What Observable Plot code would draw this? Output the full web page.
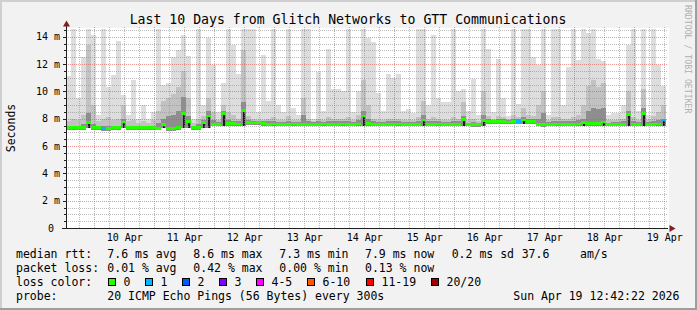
<!DOCTYPE html>
<html><head><meta charset="utf-8">
<script src="https://cdn.jsdelivr.net/npm/d3@7"></script>
<script src="https://cdn.jsdelivr.net/npm/@observablehq/plot@0.6"></script>
<style>
html,body{margin:0;padding:0;background:#f2f2f2;}
#chart{width:697px;height:310px;}
svg{display:block;}
</style></head><body><div id="chart"></div>
<script>
const title = "Last 10 Days from Glitch Networks to GTT Communications";
const yLabel = "Seconds";
const watermark = "RRDTOOL / TOBI OETIKER";
const startTime = Date.UTC(2026, 3, 9, 12, 42, 22);
const endTime = Date.UTC(2026, 3, 19, 12, 42, 22);
const stepHours = 2;
const dayLabels = ["10 Apr","11 Apr","12 Apr","13 Apr","14 Apr","15 Apr","16 Apr","17 Apr","18 Apr","19 Apr"];
const yTicks = [0, 2, 4, 6, 8, 10, 12, 14];
const yMax = 14.64;

// median rtt per 2h column (ms)
const medianMs = [
 7.35,7.35,7.36,7.35,7.7,7.34,7.35,7.28,7.28,7.35,
 7.35,7.75,7.35,7.36,7.35,7.35,7.34,7.35,7.3,7.6,
 7.26,7.27,7.38,8.4,7.8,7.35,7.36,7.7,8.2,7.58,
 7.6,8.4,7.65,7.66,7.62,8.6,7.7,7.68,7.7,7.65,
 7.6,7.62,7.58,7.6,7.6,7.62,7.6,7.6,7.58,7.6,
 7.6,7.62,7.6,7.58,7.6,7.62,7.6,7.6,7.62,8.2,
 7.65,7.6,7.58,7.6,7.6,7.6,7.62,7.6,7.58,7.6,
 7.6,7.9,7.6,7.6,7.62,7.6,7.6,7.58,7.6,7.95,
 7.6,7.55,7.55,7.85,7.78,7.78,7.8,7.78,7.76,7.78,
 7.78,7.9,7.78,7.78,7.6,7.55,7.6,7.6,7.62,7.6,
 7.6,7.6,7.62,7.7,7.65,7.65,7.64,7.75,7.6,7.58,
 7.6,7.6,8.3,7.6,7.6,8.4,7.6,7.6,7.62,7.9
];
// slowest ping per column (ms)
const maxMs = [
 11.1,14.6,9.5,12.5,14.6,14.1,8.3,14.6,10.3,11.2,
 13.7,9.7,8.3,10.8,8.0,9.0,8.0,8.5,14.6,10.5,
 10.6,12.5,13.0,14.1,12.6,8.0,14.6,9.0,13.9,11.9,
 8.5,10.6,14.6,13.4,11.3,14.6,14.6,14.6,8.5,12.7,
 9.3,14.6,9.0,8.5,14.6,8.8,8.3,14.6,14.6,8.0,
 11.4,8.6,13.1,10.2,10.2,10.0,14.6,8.5,10.0,14.6,
 13.9,13.6,9.9,8.6,11.3,11.0,11.3,8.6,8.7,8.4,
 14.6,14.6,9.0,14.1,9.5,9.2,9.2,14.6,10.0,10.2,
 8.6,10.9,8.3,14.6,13.1,8.5,12.4,9.5,8.2,14.6,
 9.1,14.6,14.6,12.5,11.9,14.6,8.3,14.6,14.6,9.0,
 11.8,14.6,12.3,14.6,14.3,14.6,12.4,12.2,8.3,8.4,
 8.4,9.0,13.4,14.6,8.6,14.6,8.3,14.6,11.9,10.4
];
// upper smoke (about 2nd slowest pings, ms)
const upperMs = [
 7.8,8.0,7.9,8.3,13.4,9.0,7.8,8.0,8.1,7.9,
 8.0,9.0,7.8,7.9,7.7,7.8,7.7,7.9,8.6,9.3,
 9.5,9.8,10.3,11.5,9.5,7.7,8.0,8.2,9.5,8.5,
 7.9,9.0,8.5,8.3,8.0,13.0,8.2,8.0,7.9,7.9,
 7.95,8.1,7.9,7.9,8.2,7.9,7.9,9.5,8.0,7.85,
 8.0,7.9,8.1,8.0,8.0,8.0,8.1,7.9,8.3,10.8,
 9.0,8.0,7.9,7.9,8.0,8.0,8.0,7.9,7.9,7.9,
 8.1,9.3,8.0,8.1,7.95,7.9,7.9,8.1,8.0,9.2,
 7.9,8.0,7.85,10.0,8.2,8.0,8.2,8.1,8.0,8.3,
 8.1,8.8,8.3,8.2,9.0,10.0,7.9,8.1,8.1,8.0,
 8.0,8.1,8.3,9.0,10.4,10.8,10.3,10.6,7.9,7.9,
 7.9,8.0,10.0,8.1,7.9,10.2,7.9,8.2,8.5,9.0
];
// inner smoke (pings close to the median, ms)
const innerMs = [
 7.5,7.5,7.5,7.6,8.4,7.6,7.5,7.5,7.5,7.5,
 7.5,8.0,7.5,7.5,7.5,7.5,7.5,7.5,7.7,8.0,
 8.2,8.3,8.6,9.6,8.2,7.5,7.6,7.9,8.6,7.9,
 7.75,8.6,7.9,7.85,7.8,9.2,7.9,7.85,7.8,7.8,
 7.8,7.8,7.75,7.75,7.8,7.75,7.75,8.3,7.8,7.75,
 7.8,7.75,7.8,7.8,7.8,7.8,7.8,7.75,7.9,8.6,
 8.0,7.8,7.75,7.75,7.8,7.8,7.8,7.75,7.75,7.75,
 7.8,8.3,7.8,7.8,7.8,7.75,7.75,7.8,7.8,8.2,
 7.7,7.75,7.7,8.3,7.95,7.9,7.95,7.95,7.9,7.95,
 7.95,8.1,7.95,7.95,8.0,8.4,7.75,7.8,7.8,7.8,
 7.8,7.8,7.9,8.0,8.6,8.8,8.7,8.8,7.7,7.75,
 7.75,7.8,8.6,7.8,7.75,8.8,7.75,7.8,7.9,8.0
];
// fastest ping per column (ms)
const minMs = [
 7.2,7.2,7.2,7.2,7.35,7.2,7.2,7.13,7.13,7.2,
 7.2,7.35,7.2,7.2,7.2,7.2,7.2,7.2,7.15,7.3,
 7.13,7.13,7.2,7.35,7.35,7.2,7.2,7.35,7.35,7.45,
 7.45,7.5,7.5,7.5,7.45,7.5,7.55,7.55,7.55,7.5,
 7.45,7.45,7.45,7.45,7.45,7.45,7.45,7.45,7.45,7.45,
 7.45,7.45,7.45,7.45,7.45,7.45,7.45,7.45,7.45,7.5,
 7.5,7.45,7.45,7.45,7.45,7.45,7.45,7.45,7.45,7.45,
 7.45,7.5,7.45,7.45,7.45,7.45,7.45,7.45,7.45,7.5,
 7.45,7.4,7.4,7.5,7.63,7.63,7.63,7.63,7.63,7.63,
 7.63,7.63,7.63,7.63,7.45,7.4,7.45,7.45,7.45,7.45,
 7.45,7.45,7.45,7.5,7.5,7.5,7.5,7.5,7.45,7.45,
 7.45,7.45,7.5,7.45,7.45,7.5,7.45,7.45,7.45,7.5
];
// lost pings (of 20) per column
const lossCount = [
 0,0,0,0,0,0,0,1,0,0, 0,0,0,0,0,0,0,0,0,0,
 0,0,0,0,0,0,0,0,0,0, 0,0,0,0,0,0,0,0,0,0,
 0,0,0,0,0,0,0,0,0,0, 0,0,0,0,0,0,0,0,0,0,
 0,0,0,0,0,0,0,0,0,0, 0,0,0,0,0,0,0,0,0,0,
 0,0,0,0,0,0,0,0,0,0, 1,0,0,0,0,0,0,0,0,0,
 0,0,0,0,0,0,0,0,0,0, 0,0,0,0,0,0,0,0,0,1
];
const lossLabels = ["0","1","2","3","4-5","6-10","11-19","20/20"];
const lossMaxCount = [0,1,2,3,5,10,19,20];
const lossColors = ["#26ff00","#00b8ff","#0059ff","#7e00ff","#ff00ff","#ff5500","#ff0000","#a10000"];

const statRow1 = ["median rtt:","7.6 ms avg","8.6 ms max","7.3 ms min","7.9 ms now","0.2 ms sd","37.6","am/s"];
const statRow2 = ["packet loss:","0.01 % avg","0.42 % max","0.00 % min","0.13 % now"];
const probeRow = ["probe:","20 ICMP Echo Pings (56 Bytes) every 300s","Sun Apr 19 12:42:22 2026"];
const lossRowLabel = "loss color:";

const font = "'DejaVu Sans Mono', monospace";
const stepMs = stepHours * 3600 * 1000;
const lossColor = n => lossColors[lossMaxCount.findIndex(m => n <= m)];

const cols = medianMs.map((m, i) => ({
  t1: new Date(startTime + i * stepMs),
  t2: new Date(startTime + (i + 1) * stepMs),
  med: m, hi: maxMs[i], up: upperMs[i], inner: innerMs[i], lo: minMs[i], loss: lossCount[i]
}));

const start = new Date(startTime), end = new Date(endTime);
const dayLines = d3.utcDay.range(start, end);
const sixHourLines = d3.utcHour.every(6).range(start, end).filter(d => d.getUTCHours() !== 0);
const labelDates = dayLines.map(d => d3.utcHour.offset(d, 12));
const minorY = d3.range(0.5, yMax, 0.5).filter(v => v % 2 !== 0);
const majorY = yTicks.filter(v => v > 0);
const crisp = {shapeRendering: "crispEdges"};

const W = 697, H = 310;
const plot = Plot.plot({
  width: W, height: H,
  marginLeft: 66, marginRight: 31, marginTop: 28, marginBottom: 82,
  style: {background: "#f2f2f2", fontFamily: font, fontSize: "10px", color: "#000", overflow: "visible"},
  x: {type: "utc", domain: [start, end]},
  y: {domain: [0, yMax]},
  marks: [
    Plot.frame({fill: "#ffffff", stroke: null, insetRight: -2, insetTop: -1, ...crisp}),
    Plot.rect(cols, {x1: "t1", x2: "t2", y1: "lo", y2: "hi", fill: "#dddddd", ...crisp}),
    Plot.rect(cols, {x1: "t1", x2: "t2", y1: "lo", y2: "up", fill: "#c2c2c2", ...crisp}),
    Plot.rect(cols, {x1: "t1", x2: "t2", y1: "lo", y2: "inner", fill: "#8e8e8e", ...crisp}),
    Plot.rect(cols, {filter: d => d.med - d.lo > 0.2, x1: "t1", x2: "t2", y1: "lo", y2: "med", fill: "#1c1c1c", insetLeft: 1.5, insetRight: 1.5, ...crisp}),
    Plot.ruleY(minorY, {stroke: "rgba(143,143,143,0.6)", strokeDasharray: "1,1", insetRight: -2, ...crisp}),
    Plot.ruleX(sixHourLines, {stroke: "rgba(143,143,143,0.6)", strokeDasharray: "1,1", insetTop: -1, ...crisp}),
    Plot.ruleY(majorY, {stroke: "rgba(222,79,79,0.6)", strokeDasharray: "1,1", insetRight: -2, ...crisp}),
    Plot.ruleX(dayLines, {stroke: "rgba(222,79,79,0.6)", strokeDasharray: "1,1", insetTop: -1, ...crisp}),
    Plot.rect(cols, {x1: "t1", x2: "t2", y1: d => d.med - 0.1, y2: d => d.med + 0.1, fill: d => lossColor(d.loss), ...crisp}),
    Plot.ruleY([0], {stroke: "#1f1f1f", insetLeft: -4, insetRight: -2, ...crisp}),
    Plot.ruleX([start], {stroke: "#1f1f1f", insetTop: -2, ...crisp}),
    Plot.dot([start], {x: d => d, y: yMax, symbol: "triangle", r: 2.6, fill: "#801f1f", stroke: null, dy: -4}),
    Plot.dot([end], {x: d => d, y: 0, symbol: "triangle", r: 2.6, fill: "#801f1f", stroke: null, rotate: 90, dx: 5}),
    Plot.axisY({ticks: minorY, tickSize: 2, tickFormat: () => "", label: null, stroke: "#1f1f1f", ...crisp}),
    Plot.axisY({ticks: yTicks, tickSize: 3, tickPadding: 3.5, label: null, stroke: "#1f1f1f",
      fontSize: 10, fontFamily: font, ...crisp,
      tickFormat: d => d === 0 ? "0\u00a0" : d + " m"}),
    Plot.axisX({ticks: labelDates, tickSize: 0, tickPadding: 5.5, label: null,
      fontSize: 10, fontFamily: font,
      tickFormat: (d, i) => dayLabels[i]})
  ]
});
document.getElementById("chart").appendChild(plot);

const svg = d3.select(plot);
// 3D border
svg.append("rect").attr("x", 0).attr("y", 0).attr("width", W).attr("height", 2).attr("fill", "#cfcfcf");
svg.append("rect").attr("x", 0).attr("y", 0).attr("width", 2).attr("height", H).attr("fill", "#cfcfcf");
svg.append("rect").attr("x", 0).attr("y", H - 2).attr("width", W).attr("height", 2).attr("fill", "#9e9e9e");
svg.append("rect").attr("x", W - 2).attr("y", 0).attr("width", 2).attr("height", H).attr("fill", "#9e9e9e");

const txt = (s, x, y, size, opts = {}) => {
  const t = svg.append("text").attr("x", x).attr("y", y)
    .attr("font-family", font).attr("font-size", size)
    .attr("fill", opts.fill || "#000")
    .attr("text-anchor", opts.anchor || "start")
    .style("white-space", "pre").text(s);
  if (opts.transform) t.attr("transform", opts.transform);
  return t;
};
txt(title, 348, 24, 13.2, {anchor: "middle"});
txt(yLabel, 0, 0, 11.5, {anchor: "middle", transform: "translate(14.5,128) rotate(-90)"});
txt(watermark, 0, 0, 8.2, {fill: "#b0b0b0", transform: "translate(685,5) rotate(90)"});

const legSize = 11.5;
const row1X = [16, 107.3, 193.3, 279.3, 365, 451.7, 521.7, 580];
statRow1.forEach((s, i) => txt(s, row1X[i], 258, legSize));
statRow2.forEach((s, i) => txt(s, row1X[i], 272, legSize));
txt(lossRowLabel, 16, 286, legSize);
const boxX = [108.5, 145.5, 182.5, 219.5, 256.5, 307.5, 366.5, 431.5];
lossLabels.forEach((s, i) => {
  svg.append("rect").attr("x", boxX[i]).attr("y", 278.5).attr("width", 7).attr("height", 7)
    .attr("fill", lossColors[i]).attr("stroke", "#000").attr("stroke-width", 1);
  txt(s, boxX[i] + 15, 286, legSize);
});
txt(probeRow[0], 16, 300, legSize);
txt(probeRow[1], 107.3, 300, legSize);
txt(probeRow[2], 513.3, 300, legSize);
</script></body></html>
